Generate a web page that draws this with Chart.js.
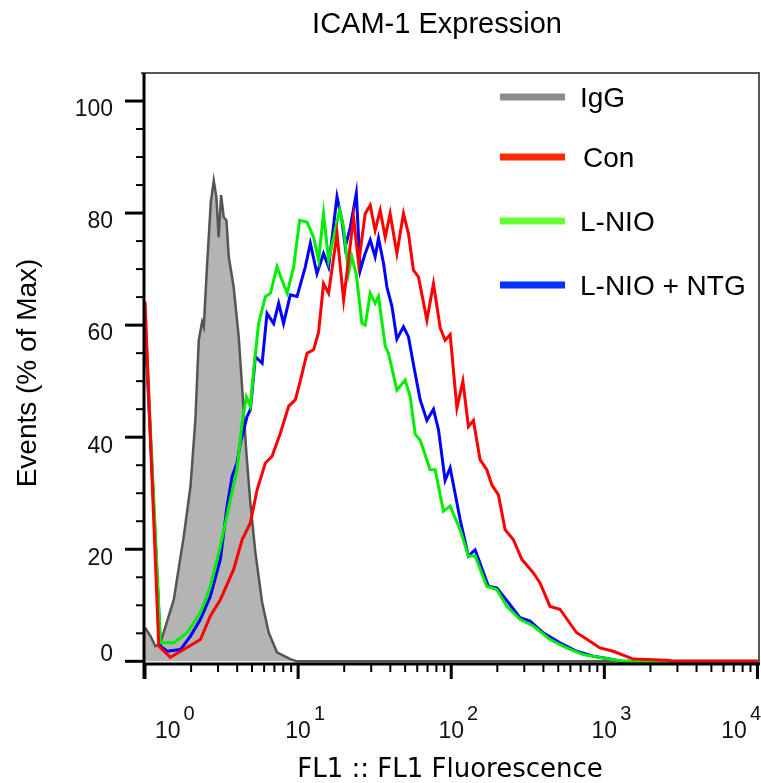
<!DOCTYPE html>
<html lang="en">
<head>
<meta charset="UTF-8">
<title>ICAM-1 Expression</title>
<script src="https://cdn.jsdelivr.net/npm/chart.js"></script>
<style>
  body { margin: 0; background: #fff; }
  canvas { display: block; }
</style>
</head>
<body>
<canvas id="hist" width="761" height="783"></canvas>
<script>
// x values are log10(FL1), so 0 = 10^0 ... 4 = 10^4
const igX  = [0, 0.036, 0.068, 0.101, 0.188, 0.253, 0.297, 0.329, 0.351, 0.373, 0.384, 0.406, 0.43, 0.449, 0.466, 0.481, 0.497, 0.514, 0.532, 0.547, 0.579, 0.612, 0.634, 0.662, 0.688, 0.721, 0.765, 0.808, 0.862, 0.949, 0.993, 4.01];
const igY  = [6, 4.5, 2.7, 3.3, 11, 22.3, 31.2, 43.1, 57.3, 60.6, 59.7, 71, 82, 85.8, 82.9, 75.7, 83.2, 79.3, 78.7, 72.2, 66.8, 57.9, 49, 37.2, 28.3, 19.4, 10.5, 5.1, 1.6, 0.4, 0, 0];

const conX = [0, 0.09, 0.166, 0.253, 0.362, 0.427, 0.492, 0.579, 0.634, 0.688, 0.732, 0.786, 0.83, 0.884, 0.938, 0.982, 1.014, 1.058, 1.101, 1.134, 1.166, 1.199, 1.254, 1.297, 1.329, 1.362, 1.395, 1.438, 1.471, 1.503, 1.536, 1.569, 1.601, 1.645, 1.688, 1.721, 1.753, 1.786, 1.841, 1.884, 1.928, 1.96, 1.993, 2.037, 2.076, 2.112, 2.145, 2.188, 2.232, 2.265, 2.308, 2.352, 2.406, 2.461, 2.536, 2.58, 2.645, 2.71, 2.819, 2.906, 2.971, 3.058, 3.189, 3.406, 3.45, 4.01];
const conY = [64.2, 2.7, 0.7, 2.1, 3.9, 8.1, 11, 16.4, 21.7, 24.7, 30.6, 35.4, 36.6, 40.7, 45.5, 46.7, 50, 55, 55.6, 58.8, 67.4, 65.7, 76.3, 64.5, 71.6, 79.3, 71, 79.9, 81.4, 76.9, 80.5, 75.7, 79.9, 72.8, 79.9, 76.3, 69.8, 68.6, 60.9, 67.4, 59.5, 57.3, 58.3, 45.2, 50, 41.9, 43, 36, 34.2, 31.5, 29.7, 23.5, 21.7, 18.2, 15.8, 14, 9.8, 9.3, 5.1, 3.6, 2.4, 1.8, 0.4, 0.2, 0, 0];

const nioX = [0, 0.101, 0.188, 0.275, 0.362, 0.427, 0.492, 0.558, 0.601, 0.634, 0.662, 0.688, 0.71, 0.742, 0.786, 0.819, 0.862, 0.895, 0.928, 0.971, 1.01, 1.058, 1.101, 1.134, 1.166, 1.199, 1.232, 1.271, 1.297, 1.329, 1.351, 1.38, 1.417, 1.438, 1.471, 1.503, 1.525, 1.569, 1.59, 1.645, 1.699, 1.732, 1.765, 1.797, 1.862, 1.895, 1.949, 1.993, 2.058, 2.112, 2.156, 2.232, 2.297, 2.363, 2.449, 2.536, 2.645, 2.754, 2.862, 2.971, 3.08, 3.121, 4.01];
const nioY = [62, 3.3, 3.3, 5.1, 8.7, 13.4, 20.5, 28.9, 34.2, 42.5, 47.2, 45.5, 52, 60.3, 65.1, 65.7, 70.4, 68, 65.7, 70.4, 78.7, 78.4, 75.7, 71.6, 79.9, 71.6, 75.7, 80.5, 77.5, 69.2, 72.2, 69, 60.3, 60, 65.7, 63.9, 65.1, 56.2, 55, 48.4, 50.2, 47.2, 40.5, 39.5, 34.2, 34.2, 26.8, 27.7, 23.5, 18.8, 18.8, 13.4, 12.8, 9.8, 7.5, 6.3, 3.9, 2.4, 1.2, 0.7, 0.2, 0, 0];

const ntgX = [0, 0.101, 0.145, 0.232, 0.297, 0.362, 0.427, 0.492, 0.536, 0.569, 0.601, 0.623, 0.667, 0.688, 0.721, 0.765, 0.797, 0.84, 0.873, 0.905, 0.949, 0.993, 1.047, 1.08, 1.123, 1.166, 1.199, 1.254, 1.286, 1.308, 1.341, 1.38, 1.406, 1.438, 1.471, 1.503, 1.525, 1.558, 1.58, 1.613, 1.645, 1.688, 1.721, 1.753, 1.797, 1.841, 1.884, 1.917, 1.96, 1.993, 2.058, 2.112, 2.156, 2.243, 2.297, 2.373, 2.449, 2.515, 2.601, 2.71, 2.819, 2.928, 3.037, 3.102, 4.01];
const ntgY = [60, 2.7, 1.8, 2.1, 4.5, 7.5, 11.6, 18.2, 27.7, 33, 35.4, 39, 43.7, 44.9, 54.4, 53.2, 62.1, 60.3, 63.9, 60.3, 65.4, 65.1, 70.4, 74.6, 69.2, 72.8, 70.4, 82.9, 78.7, 74, 77.5, 83.5, 69.8, 72.8, 75.2, 72.2, 75.5, 71, 66.8, 63.3, 57.5, 59.7, 57.9, 53, 46.7, 43, 45, 41.3, 32.3, 34.5, 25.3, 18.8, 19.9, 13.4, 13.1, 10.5, 7.8, 7.2, 5.1, 3.3, 1.8, 0.9, 0.4, 0, 0];

const legendNames  = ['IgG', 'Con', 'L-NIO', 'L-NIO + NTG'];
const legendColors = ['#8c8c8c', '#ff2a00', '#66ff33', '#0033ff'];
const yTicks = [0, 20, 40, 60, 80, 100];
const xDecades = [0, 1, 2, 3, 4];

function pts(xs, ys) {
  return xs.map((v, i) => ({ x: v, y: ys[i] }));
}

const frame = {
  id: 'frame',
  afterDatasetsDraw(chart) {
    const { ctx, chartArea: a, scales: { x, y } } = chart;
    ctx.save();

    // box top / right
    ctx.strokeStyle = '#555';
    ctx.lineWidth = 2;
    ctx.beginPath();
    ctx.moveTo(141, a.top);
    ctx.lineTo(a.right, a.top);
    ctx.lineTo(a.right, a.bottom);
    ctx.stroke();

    // axes
    ctx.strokeStyle = '#000';
    ctx.lineWidth = 3;
    ctx.beginPath();
    ctx.moveTo(a.left - 1, a.top);
    ctx.lineTo(a.left - 1, a.bottom + 16);
    ctx.moveTo(a.left - 1, a.bottom + 1);
    ctx.lineTo(a.right + 1, a.bottom + 1);
    ctx.stroke();

    // y ticks
    for (let v = 0; v <= 100; v += 5) {
      const py = y.getPixelForValue(v);
      const major = v % 20 === 0;
      ctx.lineWidth = major ? 3 : 2;
      ctx.beginPath();
      ctx.moveTo(major ? 125 : 136, py);
      ctx.lineTo(a.left - 1, py);
      ctx.stroke();
    }
    ctx.fillStyle = '#111';
    ctx.font = '23px "Liberation Sans", Arial, sans-serif';
    ctx.textAlign = 'right';
    ctx.textBaseline = 'middle';
    yTicks.forEach(v => {
      const py = y.getPixelForValue(v);
      ctx.fillText(String(v), 113, v === 0 ? py - 7 : py + 9);
    });

    // x ticks (log decades)
    ctx.strokeStyle = '#000';
    xDecades.forEach(d => {
      const px = x.getPixelForValue(d);
      ctx.lineWidth = 3;
      ctx.beginPath();
      ctx.moveTo(px, a.bottom);
      ctx.lineTo(px, a.bottom + 16);
      ctx.stroke();
      if (d < 4) {
        for (let k = 2; k <= 9; k++) {
          const mx = x.getPixelForValue(d + Math.log10(k));
          ctx.lineWidth = 2;
          ctx.beginPath();
          ctx.moveTo(mx, a.bottom);
          ctx.lineTo(mx, a.bottom + 9);
          ctx.stroke();
        }
      }
    });
    ctx.textAlign = 'left';
    ctx.textBaseline = 'alphabetic';
    xDecades.forEach(d => {
      const px = x.getPixelForValue(d);
      ctx.font = '23px "Liberation Sans", Arial, sans-serif';
      const w = ctx.measureText('10').width;
      ctx.font = '20px "Liberation Sans", Arial, sans-serif';
      const sw = ctx.measureText(String(d)).width;
      let left = px - w / 2;
      if (d === 0) left = 155;
      if (left + w + 3 + sw > 761) left = 761 - sw - 3 - w;
      ctx.font = '23px "Liberation Sans", Arial, sans-serif';
      ctx.fillText('10', left, 738);
      ctx.font = '20px "Liberation Sans", Arial, sans-serif';
      ctx.fillText(String(d), left + w + 3, 720);
    });

    // axis titles
    ctx.fillStyle = '#000';
    ctx.textAlign = 'center';
    ctx.font = '26px "DejaVu Sans", sans-serif';
    ctx.fillText('FL1 :: FL1 Fluorescence', 450, 777);
    ctx.font = '29px "Liberation Sans", Arial, sans-serif';
    ctx.fillText('ICAM-1 Expression', 437, 33);
    ctx.save();
    ctx.translate(36, 373);
    ctx.rotate(-Math.PI / 2);
    ctx.font = '28px "Liberation Sans", Arial, sans-serif';
    ctx.fillText('Events (% of Max)', 0, 0);
    ctx.restore();

    // legend
    const ly = [97, 157, 221, 285];
    legendNames.forEach((name, i) => {
      ctx.strokeStyle = legendColors[i];
      ctx.lineWidth = 7;
      ctx.beginPath();
      ctx.moveTo(500, ly[i]);
      ctx.lineTo(565, ly[i]);
      ctx.stroke();
      ctx.fillStyle = '#000';
      ctx.textAlign = 'left';
      ctx.font = '28px "Liberation Sans", Arial, sans-serif';
      ctx.fillText(name, i === 1 ? 583 : 580, ly[i] + 10);
    });

    ctx.restore();
  }
};

new Chart(document.getElementById('hist'), {
  type: 'line',
  data: {
    datasets: [
      { label: 'Con', data: pts(conX, conY), borderColor: '#ff0000', borderWidth: 3, order: 0 },
      { label: 'L-NIO', data: pts(nioX, nioY), borderColor: '#00ee00', borderWidth: 3, order: 1 },
      { label: 'L-NIO + NTG', data: pts(ntgX, ntgY), borderColor: '#0000ff', borderWidth: 3, order: 2 },
      { label: 'IgG', data: pts(igX, igY), borderColor: '#555555', borderWidth: 2.5,
        backgroundColor: '#b4b4b4', fill: 'origin', order: 3 }
    ]
  },
  options: {
    responsive: false,
    animation: false,
    events: [],
    layout: { padding: { top: 73, right: 2, left: 0, bottom: 0 } },
    elements: { point: { radius: 0 }, line: { tension: 0 } },
    plugins: { legend: { display: false }, title: { display: false }, tooltip: { enabled: false } },
    scales: {
      x: {
        type: 'linear', min: 0, max: 4.01,
        ticks: { display: false }, grid: { display: false }, border: { display: false },
        afterFit: s => { s.height = 120; }
      },
      y: {
        type: 'linear', min: -0.3, max: 105,
        ticks: { display: false }, grid: { display: false }, border: { display: false },
        afterFit: s => { s.width = 145; }
      }
    }
  },
  plugins: [frame]
});
</script>
</body>
</html>
